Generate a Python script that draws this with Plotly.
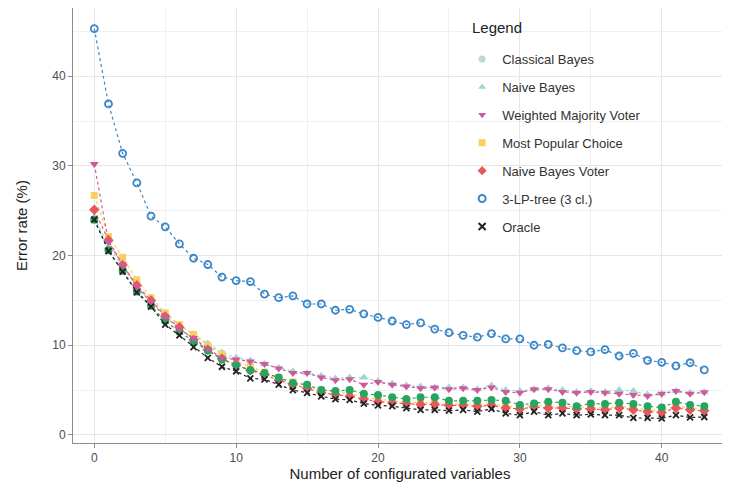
import plotly.graph_objects as go

# number of configured variables
n_vars = list(range(44))

# error rates (%)
classical_bayes = [24.0, 20.6, 18.3, 16.0, 14.4, 12.7, 11.5, 10.4, 9.4, 8.4,
                   7.8, 7.2, 6.9, 6.4, 5.8, 5.6, 5.0, 4.9, 5.0, 4.6,
                   4.45, 4.2, 4.0, 4.2, 4.2, 3.8, 3.8, 3.8, 3.9, 3.8,
                   3.35, 3.5, 3.7, 3.6, 3.2, 3.5, 3.45, 3.6, 3.45, 3.2,
                   3.05, 3.7, 3.35, 3.2]
naive_bayes = [24.3, 21.0, 18.8, 16.5, 14.9, 13.5, 12.2, 11.2, 10.2, 9.2,
               8.6, 8.3, 7.9, 7.5, 7.1, 6.9, 6.6, 6.3, 6.4, 6.4,
               6.0, 5.7, 5.5, 5.4, 5.3, 5.3, 5.3, 5.1, 5.5, 5.0,
               4.9, 5.1, 5.2, 5.0, 4.8, 4.9, 4.8, 5.0, 4.9, 4.5,
               4.6, 4.9, 4.7, 4.8]
weighted_majority = [30.2, 21.5, 19.0, 16.5, 14.8, 13.2, 11.8, 10.8, 9.6, 8.6,
                     8.4, 8.2, 7.9, 7.4, 6.9, 6.9, 6.4, 6.1, 6.2, 5.6,
                     5.9, 5.6, 5.4, 5.2, 5.3, 5.1, 5.2, 5.0, 5.3, 4.8,
                     4.7, 5.1, 5.1, 4.8, 4.7, 4.8, 4.7, 4.6, 4.45, 4.35,
                     4.6, 4.9, 4.6, 4.75]
most_popular = [26.7, 22.1, 19.8, 17.3, 15.3, 13.6, 12.3, 11.2, 10.0, 9.0,
                8.2, 7.6, 7.0, 6.4, 5.9, 5.5, 5.0, 4.8, 4.6, 4.2,
                4.0, 3.8, 3.7, 3.6, 3.6, 3.5, 3.5, 3.4, 3.5, 3.2,
                3.1, 3.3, 3.2, 3.2, 3.1, 3.1, 3.0, 3.2, 3.0, 2.8,
                2.7, 3.2, 3.0, 2.9]
nb_voter = [25.1, 21.7, 18.95, 16.7, 15.0, 13.2, 12.0, 10.6, 9.5, 8.5,
            7.8, 7.2, 6.7, 6.1, 5.6, 5.2, 4.7, 4.5, 4.3, 4.0,
            3.7, 3.6, 3.5, 3.4, 3.4, 3.3, 3.3, 3.2, 3.3, 3.0,
            2.9, 3.1, 3.0, 3.0, 2.9, 2.9, 2.8, 3.0, 2.8, 2.6,
            2.5, 3.0, 2.8, 2.7]
lp_tree = [45.3, 36.9, 31.4, 28.1, 24.4, 23.2, 21.3, 19.7, 19.0, 17.6,
           17.2, 17.1, 15.7, 15.3, 15.5, 14.6, 14.6, 13.9, 14.0, 13.5,
           13.1, 12.7, 12.3, 12.5, 11.8, 11.4, 11.1, 10.9, 11.3, 10.7,
           10.7, 10.0, 10.1, 9.7, 9.4, 9.25, 9.5, 8.8, 9.1, 8.3,
           8.1, 7.7, 8.05, 7.25]
oracle = [24.0, 20.5, 18.2, 15.9, 14.3, 12.3, 11.1, 9.8, 8.6, 7.6,
          7.1, 6.3, 6.2, 5.6, 5.0, 4.7, 4.3, 4.0, 3.9, 3.5,
          3.3, 3.2, 3.0, 2.8, 2.8, 2.7, 2.8, 2.6, 2.9, 2.4,
          2.2, 2.6, 2.2, 2.4, 2.2, 2.3, 2.2, 2.2, 1.9, 1.9,
          1.85, 2.2, 1.95, 2.0]

# (name, values, plot colour, legend colour, symbol, size)
series = [
    ("3-LP-tree (3 cl.)", lp_tree, "#3a87c9", "#3a87c9", "circle-open", 7),
    ("Naive Bayes", naive_bayes, "#9ed6d2", "#9ed6d2", "triangle-up", 8),
    ("Most Popular Choice", most_popular, "#f5d160", "#f5d160", "square", 7),
    ("Naive Bayes Voter", nb_voter, "#e9565c", "#e9565c", "diamond", 8),
    ("Classical Bayes", classical_bayes, "#27a560", "#b9dacf", "circle", 8),
    ("Weighted Majority Voter", weighted_majority, "#d2589c", "#d2589c", "triangle-down", 8),
    ("Oracle", oracle, "#222222", "#222222", "x-thin-open", 6),
]
legend_order = ["Classical Bayes", "Naive Bayes", "Weighted Majority Voter",
                "Most Popular Choice", "Naive Bayes Voter", "3-LP-tree (3 cl.)", "Oracle"]

fig = go.Figure()
for name, vals, col, lcol, sym, size in series:
    mk = dict(color=col, size=size, symbol=sym)
    if sym in ("circle-open", "x-thin-open"):
        mk["line"] = dict(width=1.8, color=col)
    fig.add_trace(go.Scatter(x=n_vars, y=vals, mode="lines+markers", name=name,
                             line=dict(color=col, width=1.2, dash="dot"),
                             marker=mk, showlegend=False))

# legend-only entries
lookup = {s[0]: s for s in series}
for name in legend_order:
    _, _, col, lcol, sym, size = lookup[name]
    mk = dict(color=lcol, size=7, symbol=sym)
    if sym in ("circle-open", "x-thin-open"):
        mk["line"] = dict(width=2, color=lcol)
    fig.add_trace(go.Scatter(x=[None], y=[None], mode="markers", name=name,
                             legendgroup=name, marker=mk))

axis_common = dict(showgrid=True, gridcolor="#e6e6e6", gridwidth=1, zeroline=False,
                   showline=True, linecolor="#8c8c8c", linewidth=1, mirror=True,
                   ticks="outside", ticklen=4, tickcolor="#8c8c8c", automargin=False,
                   tickfont=dict(size=12, color="#4d4d4d"),
                   minor=dict(showgrid=True, gridcolor="#f0f0f0", dtick=5))

fig.update_layout(
    width=730, height=490,
    margin=dict(l=65, r=11, t=0, b=55),
    paper_bgcolor="white", plot_bgcolor="white",
    font=dict(family="Liberation Sans, Arial, sans-serif", color="#333333"),
    xaxis=dict(range=[-1.5, 44.6], dtick=10, tick0=0,
               title=dict(text="Number of configurated variables", font=dict(size=15, color="#222222"), standoff=1),
               **axis_common),
    yaxis=dict(range=[-0.9, 47.6], dtick=10, tick0=0,
               title=dict(text="Error rate (%)", font=dict(size=15, color="#222222"), standoff=20),
               **axis_common),
    legend=dict(x=0.595, y=0.917, xanchor="left", yanchor="top",
                bgcolor="rgba(255,255,255,0)", borderwidth=0,
                font=dict(size=13, color="#333333"),
                itemsizing="trace", tracegroupgap=8),
    annotations=[dict(text="Legend", x=0.607, y=0.956, xref="paper", yref="paper",
                      xanchor="left", yanchor="middle", showarrow=False,
                      font=dict(size=15, color="#222222"))],
)

fig.write_html("out.html")
